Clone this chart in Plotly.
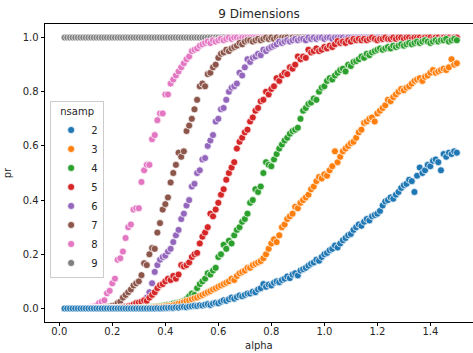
import plotly.graph_objects as go

# x grid (alpha)
alpha = [
    0.02, 0.03, 0.04, 0.05, 0.06, 0.07, 0.08, 0.09, 0.10, 0.11,
    0.12, 0.13, 0.14, 0.15, 0.16, 0.17, 0.18, 0.19, 0.20, 0.21,
    0.22, 0.23, 0.24, 0.25, 0.26, 0.27, 0.28, 0.29, 0.30, 0.31,
    0.32, 0.33, 0.34, 0.35, 0.36, 0.37, 0.38, 0.39, 0.40, 0.41,
    0.42, 0.43, 0.44, 0.45, 0.46, 0.47, 0.48, 0.49, 0.50, 0.51,
    0.52, 0.53, 0.54, 0.55, 0.56, 0.57, 0.58, 0.59, 0.60, 0.61,
    0.62, 0.63, 0.64, 0.65, 0.66, 0.67, 0.68, 0.69, 0.70, 0.71,
    0.72, 0.73, 0.74, 0.75, 0.76, 0.77, 0.78, 0.79, 0.80, 0.81,
    0.82, 0.83, 0.84, 0.85, 0.86, 0.87, 0.88, 0.89, 0.90, 0.91,
    0.92, 0.93, 0.94, 0.95, 0.96, 0.97, 0.98, 0.99, 1.00, 1.01,
    1.02, 1.03, 1.04, 1.05, 1.06, 1.07, 1.08, 1.09, 1.10, 1.11,
    1.12, 1.13, 1.14, 1.15, 1.16, 1.17, 1.18, 1.19, 1.20, 1.21,
    1.22, 1.23, 1.24, 1.25, 1.26, 1.27, 1.28, 1.29, 1.30, 1.31,
    1.32, 1.33, 1.34, 1.35, 1.36, 1.37, 1.38, 1.39, 1.40, 1.41,
    1.42, 1.43, 1.44, 1.45, 1.46, 1.47, 1.48, 1.49, 1.50,
]

pr_2 = [
    0, 0, 0, 0, 0, 0, 0, 0, 0, 0,
    0, 0, 0, 0, 0, 0, 0, 0, 0, 0,
    0, 0, 0, 0, 0, 0, 0, 0, 0, 0,
    0, 0, 0, 0, 0, 0.001, 0, 0.001, 0.002, 0.002,
    0.003, 0.002, 0.004, 0.003, 0.005, 0.006, 0.004, 0.007, 0.008, 0.01,
    0.009, 0.012, 0.011, 0.014, 0.016, 0.013, 0.018, 0.021, 0.019, 0.025,
    0.03, 0.028, 0.034, 0.04, 0.036, 0.042, 0.048, 0.045, 0.05, 0.055,
    0.055, 0.062, 0.06, 0.07, 0.075, 0.09, 0.08, 0.088, 0.085, 0.095,
    0.1, 0.097, 0.105, 0.11, 0.118, 0.112, 0.125, 0.13, 0.122, 0.14,
    0.145, 0.15, 0.158, 0.165, 0.17, 0.18, 0.176, 0.19, 0.2, 0.205,
    0.215, 0.22, 0.232, 0.225, 0.24, 0.252, 0.26, 0.27, 0.275, 0.29,
    0.3, 0.31, 0.305, 0.32, 0.33, 0.325, 0.34, 0.345, 0.35, 0.36,
    0.38, 0.395, 0.4, 0.41, 0.405, 0.42, 0.43, 0.445, 0.455, 0.46,
    0.475, 0.47, 0.43, 0.49, 0.52, 0.5, 0.51, 0.53, 0.525, 0.545,
    0.55, 0.54, 0.51, 0.57, 0.56, 0.575, 0.57, 0.58, 0.575,
]

pr_3 = [
    0, 0, 0, 0, 0, 0, 0, 0, 0, 0,
    0, 0, 0, 0, 0, 0, 0, 0, 0, 0,
    0, 0, 0, 0, 0, 0, 0, 0, 0.001, 0,
    0.001, 0.002, 0.002, 0.003, 0.004, 0.005, 0.004, 0.006, 0.008, 0.009,
    0.01, 0.012, 0.015, 0.018, 0.02, 0.024, 0.028, 0.03, 0.034, 0.038,
    0.04, 0.046, 0.05, 0.055, 0.06, 0.064, 0.07, 0.075, 0.08, 0.085,
    0.09, 0.095, 0.1, 0.11, 0.105, 0.12, 0.13, 0.135, 0.14, 0.15,
    0.15, 0.16, 0.165, 0.17, 0.175, 0.185, 0.2, 0.22, 0.24, 0.255,
    0.245, 0.27, 0.3, 0.31, 0.33, 0.34, 0.35, 0.375, 0.37, 0.39,
    0.4, 0.41, 0.42, 0.44, 0.45, 0.47, 0.485, 0.48, 0.495, 0.49,
    0.51, 0.525, 0.58, 0.54, 0.56, 0.58, 0.59, 0.6, 0.61, 0.615,
    0.63, 0.65, 0.66, 0.685, 0.69, 0.7, 0.705, 0.69, 0.72, 0.73,
    0.74, 0.75, 0.77, 0.765, 0.78, 0.79, 0.8, 0.81, 0.805, 0.815,
    0.82, 0.83, 0.84, 0.845, 0.85, 0.84, 0.855, 0.86, 0.87, 0.88,
    0.87, 0.875, 0.88, 0.885, 0.88, 0.89, 0.92, 0.9, 0.905,
]

pr_4 = [
    0, 0, 0, 0, 0, 0, 0, 0, 0, 0,
    0, 0, 0, 0, 0, 0, 0, 0, 0, 0,
    0, 0, 0, 0, 0, 0, 0.001, 0, 0.001, 0.002,
    0.002, 0.003, 0.004, 0.005, 0.005, 0.007, 0.008, 0.01, 0.012, 0.014,
    0.015, 0.018, 0.02, 0.022, 0.024, 0.028, 0.035, 0.045, 0.055, 0.05,
    0.075, 0.09, 0.1, 0.11, 0.13, 0.125, 0.14, 0.15, 0.19, 0.2,
    0.235, 0.22, 0.25, 0.24, 0.27, 0.29, 0.3, 0.32, 0.33, 0.35,
    0.39, 0.4, 0.44, 0.43, 0.45, 0.5, 0.54, 0.53, 0.525, 0.55,
    0.57, 0.59, 0.605, 0.62, 0.63, 0.645, 0.655, 0.66, 0.667, 0.7,
    0.73, 0.74, 0.755, 0.76, 0.775, 0.77, 0.8, 0.815, 0.82, 0.84,
    0.85, 0.845, 0.86, 0.87, 0.88, 0.885, 0.875, 0.9, 0.895, 0.91,
    0.913, 0.92, 0.93, 0.925, 0.94, 0.935, 0.945, 0.95, 0.955, 0.96,
    0.955, 0.96, 0.965, 0.96, 0.97, 0.965, 0.97, 0.975, 0.97, 0.975,
    0.98, 0.975, 0.98, 0.985, 0.98, 0.985, 0.99, 0.985, 0.98, 0.985,
    0.99, 0.985, 0.99, 0.99, 0.995, 0.985, 0.99, 0.995, 0.99,
]

pr_5 = [
    0, 0, 0, 0, 0, 0, 0, 0, 0, 0,
    0, 0, 0, 0, 0, 0, 0, 0.001, 0, 0.001,
    0.002, 0.003, 0.004, 0.006, 0.008, 0.01, 0.015, 0.02, 0.022, 0.025,
    0.03, 0.028, 0.04, 0.05, 0.06, 0.075, 0.086, 0.09, 0.1, 0.11,
    0.105, 0.12, 0.11, 0.125, 0.16, 0.155, 0.16, 0.17, 0.19, 0.2,
    0.205, 0.24, 0.265, 0.28, 0.3, 0.35, 0.34, 0.365, 0.39, 0.42,
    0.44, 0.475, 0.5, 0.52, 0.54, 0.59, 0.615, 0.63, 0.65, 0.66,
    0.69, 0.705, 0.73, 0.74, 0.765, 0.77, 0.8, 0.79, 0.81, 0.82,
    0.85, 0.84, 0.86, 0.87, 0.865, 0.89, 0.885, 0.9, 0.93, 0.92,
    0.93, 0.925, 0.955, 0.945, 0.95, 0.96, 0.95, 0.955, 0.965, 0.96,
    0.97, 0.965, 0.975, 0.987, 0.98, 0.985, 0.98, 0.99, 0.985, 0.995,
    0.99, 0.995, 0.99, 0.995, 0.99, 0.995, 1.0, 0.995, 0.99, 0.995,
    0.995, 1.0, 0.995, 0.995, 1.0, 0.995, 1.0, 1.0, 0.995, 1.0,
    1.0, 0.995, 1.0, 1.0, 1.0, 0.995, 1.0, 1.0, 1.0, 0.995,
    1.0, 1.0, 0.995, 1.0, 1.0, 1.0, 0.995, 1.0, 1.0,
]

pr_6 = [
    0, 0, 0, 0, 0, 0, 0, 0, 0, 0,
    0, 0, 0, 0, 0, 0, 0.001, 0.001, 0.002, 0.002,
    0.003, 0.004, 0.005, 0.006, 0.008, 0.01, 0.012, 0.014, 0.02, 0.025,
    0.03, 0.04, 0.06, 0.093, 0.135, 0.16, 0.18, 0.19, 0.195, 0.21,
    0.22, 0.245, 0.27, 0.29, 0.33, 0.35, 0.38, 0.4, 0.45, 0.46,
    0.5, 0.51, 0.55, 0.555, 0.6, 0.62, 0.64, 0.69, 0.7, 0.735,
    0.74, 0.77, 0.8, 0.815, 0.82, 0.83, 0.87, 0.86, 0.89, 0.92,
    0.91, 0.925, 0.93, 0.94, 0.935, 0.955, 0.95, 0.96, 0.965, 0.97,
    0.975, 0.985, 0.98, 0.985, 0.99, 0.985, 0.99, 0.995, 0.99, 0.995,
    0.995, 0.99, 1.0, 0.995, 1.0, 0.995, 1.0, 1.0, 0.995, 1.0,
    1.0, 0.995, 1.0, 1.0, 1.0, 1.0, 0.995, 1.0, 1.0, 1.0,
    1.0, 1.0, 1.0, 1.0, 1.0, 1.0, 1.0, 1.0, 1.0, 1.0,
    1.0, 1.0, 1.0, 1.0, 1.0, 1.0, 1.0, 1.0, 1.0, 1.0,
    1.0, 1.0, 1.0, 1.0, 1.0, 1.0, 1.0, 1.0, 1.0, 1.0,
    1.0, 1.0, 1.0, 1.0, 1.0, 1.0, 1.0, 1.0, 1.0,
]

pr_7 = [
    0, 0, 0, 0, 0, 0, 0, 0, 0, 0,
    0, 0.001, 0.001, 0.002, 0.003, 0.004, 0.005, 0.007, 0.01, 0.012,
    0.02, 0.025, 0.04, 0.05, 0.06, 0.07, 0.085, 0.093, 0.1, 0.123,
    0.167, 0.16, 0.2, 0.223, 0.22, 0.28, 0.315, 0.365, 0.385, 0.41,
    0.465, 0.5, 0.53, 0.575, 0.56, 0.58, 0.655, 0.675, 0.7, 0.735,
    0.77, 0.82, 0.83, 0.82, 0.865, 0.87, 0.89, 0.9, 0.925, 0.94,
    0.945, 0.955, 0.95, 0.96, 0.965, 0.97, 0.98, 0.975, 0.985, 0.99,
    0.99, 0.985, 0.99, 0.995, 0.99, 0.995, 1.0, 0.995, 1.0, 0.995,
    1.0, 0.995, 1.0, 1.0, 1.0, 0.995, 1.0, 1.0, 1.0, 1.0,
    1.0, 1.0, 1.0, 1.0, 1.0, 1.0, 1.0, 1.0, 1.0, 1.0,
    1.0, 1.0, 1.0, 1.0, 1.0, 1.0, 1.0, 1.0, 1.0, 1.0,
    1.0, 1.0, 1.0, 1.0, 1.0, 1.0, 1.0, 1.0, 1.0, 1.0,
    1.0, 1.0, 1.0, 1.0, 1.0, 1.0, 1.0, 1.0, 1.0, 1.0,
    1.0, 1.0, 1.0, 1.0, 1.0, 1.0, 1.0, 1.0, 1.0, 1.0,
    1.0, 1.0, 1.0, 1.0, 1.0, 1.0, 1.0, 1.0, 1.0,
]

pr_8 = [
    0, 0, 0, 0, 0, 0, 0.001, 0.001, 0.002, 0.003,
    0.005, 0.006, 0.01, 0.02, 0.025, 0.03, 0.056, 0.065, 0.093, 0.11,
    0.18, 0.185, 0.21, 0.26, 0.3, 0.31, 0.365, 0.37, 0.37, 0.467,
    0.51, 0.53, 0.53, 0.625, 0.64, 0.695, 0.72, 0.72, 0.79, 0.79,
    0.83, 0.845, 0.86, 0.875, 0.89, 0.905, 0.92, 0.93, 0.95, 0.955,
    0.96, 0.97, 0.975, 0.98, 0.985, 0.98, 0.99, 0.985, 0.99, 0.995,
    0.99, 0.995, 1.0, 0.995, 1.0, 1.0, 0.995, 1.0, 1.0, 1.0,
    1.0, 1.0, 1.0, 1.0, 1.0, 1.0, 1.0, 1.0, 1.0, 1.0,
    1.0, 1.0, 1.0, 1.0, 1.0, 1.0, 1.0, 1.0, 1.0, 1.0,
    1.0, 1.0, 1.0, 1.0, 1.0, 1.0, 1.0, 1.0, 1.0, 1.0,
    1.0, 1.0, 1.0, 1.0, 1.0, 1.0, 1.0, 1.0, 1.0, 1.0,
    1.0, 1.0, 1.0, 1.0, 1.0, 1.0, 1.0, 1.0, 1.0, 1.0,
    1.0, 1.0, 1.0, 1.0, 1.0, 1.0, 1.0, 1.0, 1.0, 1.0,
    1.0, 1.0, 1.0, 1.0, 1.0, 1.0, 1.0, 1.0, 1.0, 1.0,
    1.0, 1.0, 1.0, 1.0, 1.0, 1.0, 1.0, 1.0, 1.0,
]

pr_9 = [
    1.0, 1.0, 1.0, 1.0, 1.0, 1.0, 1.0, 1.0, 1.0, 1.0,
    1.0, 1.0, 1.0, 1.0, 1.0, 1.0, 1.0, 1.0, 1.0, 1.0,
    1.0, 1.0, 1.0, 1.0, 1.0, 1.0, 1.0, 1.0, 1.0, 1.0,
    1.0, 1.0, 1.0, 1.0, 1.0, 1.0, 1.0, 1.0, 1.0, 1.0,
    1.0, 1.0, 1.0, 1.0, 1.0, 1.0, 1.0, 1.0, 1.0, 1.0,
    1.0, 1.0, 1.0, 1.0, 1.0, 1.0, 1.0, 1.0, 1.0, 1.0,
    1.0, 1.0, 1.0, 1.0, 1.0, 1.0, 1.0, 1.0, 1.0, 1.0,
    1.0, 1.0, 1.0, 1.0, 1.0, 1.0, 1.0, 1.0, 1.0, 1.0,
    1.0, 1.0, 1.0, 1.0, 1.0, 1.0, 1.0, 1.0, 1.0, 1.0,
    1.0, 1.0, 1.0, 1.0, 1.0, 1.0, 1.0, 1.0, 1.0, 1.0,
    1.0, 1.0, 1.0, 1.0, 1.0, 1.0, 1.0, 1.0, 1.0, 1.0,
    1.0, 1.0, 1.0, 1.0, 1.0, 1.0, 1.0, 1.0, 1.0, 1.0,
    1.0, 1.0, 1.0, 1.0, 1.0, 1.0, 1.0, 1.0, 1.0, 1.0,
    1.0, 1.0, 1.0, 1.0, 1.0, 1.0, 1.0, 1.0, 1.0, 1.0,
    1.0, 1.0, 1.0, 1.0, 1.0, 1.0, 1.0, 1.0, 1.0,
]

nsamp = ["2", "3", "4", "5", "6", "7", "8", "9"]
series = [pr_2, pr_3, pr_4, pr_5, pr_6, pr_7, pr_8, pr_9]
colors = ["#1f77b4", "#ff7f0e", "#2ca02c", "#d62728",
          "#9467bd", "#8c564b", "#e377c2", "#7f7f7f"]

x_ticks = [0.0, 0.2, 0.4, 0.6, 0.8, 1.0, 1.2, 1.4]
y_ticks = [0.0, 0.2, 0.4, 0.6, 0.8, 1.0]

FONT = "DejaVu Sans"

fig = go.Figure()
# draw 9 first, 2 last (2 on top), legend reversed to list 2..9
for name, vals, col in reversed(list(zip(nsamp, series, colors))):
    fig.add_trace(go.Scatter(
        x=alpha, y=vals, mode="markers", name=name,
        marker=dict(size=7, color=col, line=dict(color="white", width=0.7)),
    ))

fig.update_layout(
    width=473, height=353,
    margin=dict(l=45, r=0, t=24, b=31),
    paper_bgcolor="white", plot_bgcolor="white",
    font=dict(family=FONT, size=10, color="#262626"),
    title=dict(text="9 Dimensions", x=0.5, xref="paper", xanchor="center",
               y=1 - 14 / 353, yref="container", yanchor="middle",
               font=dict(family=FONT, size=12, color="#262626")),
    showlegend=True,
    legend=dict(
        x=0.012, y=0.74, xanchor="left", yanchor="top",
        traceorder="reversed",
        bgcolor="rgba(255,255,255,0.8)", bordercolor="#cccccc", borderwidth=1,
        font=dict(family=FONT, size=10, color="#262626"),
        title=dict(text="nsamp", side="top center",
                   font=dict(family=FONT, size=10, color="#262626")),
    ),
    annotations=[dict(
        text="alpha", xref="paper", yref="paper", x=0.5, y=-0.078,
        xanchor="center", yanchor="middle", showarrow=False,
        font=dict(family=FONT, size=10, color="#262626"),
    )],
)

fig.update_xaxes(
    range=[-0.054, 1.561], tickvals=x_ticks, tickformat=".1f",
    showgrid=False, zeroline=False,
    showline=True, linecolor="black", linewidth=0.8, mirror=True,
    ticks="outside", ticklen=3.5, tickwidth=0.8, tickcolor="black",
    ticklabelstandoff=-3,
)
fig.update_yaxes(
    range=[-0.05, 1.05], tickvals=y_ticks, tickformat=".1f",
    showgrid=False, zeroline=False,
    showline=True, linecolor="black", linewidth=0.8, mirror=False,
    ticks="outside", ticklen=3.5, tickwidth=0.8, tickcolor="black",
    title=dict(text="pr", standoff=9, font=dict(family=FONT, size=10)),
)

fig.write_html(
    "out.html",
    config={"displayModeBar": False},
    post_script="document.body.style.margin='0';document.body.style.overflow='hidden';",
)
